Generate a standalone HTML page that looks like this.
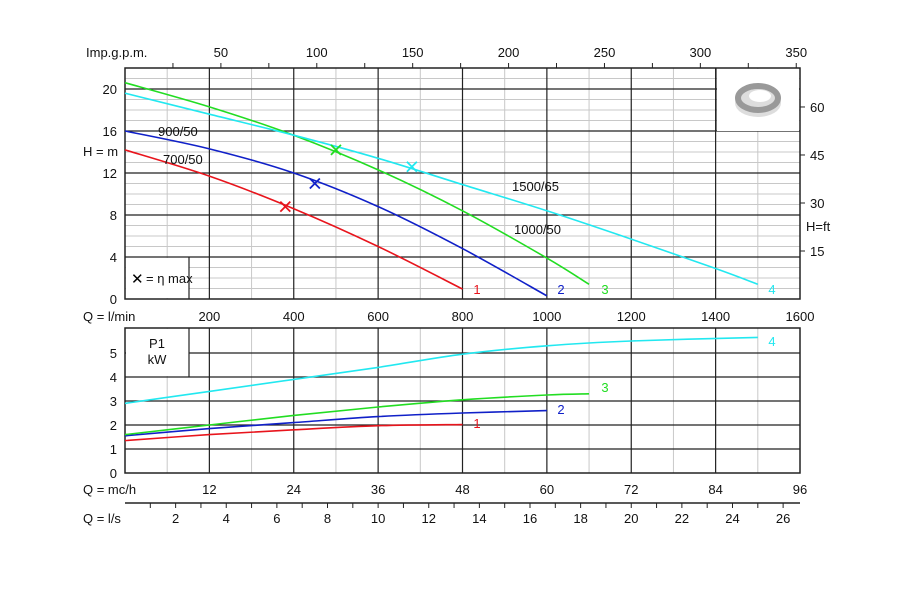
<!DOCTYPE html>
<html><head><meta charset="utf-8"><style>
body{margin:0;background:#fff}
svg{display:block;font-family:"Liberation Sans",sans-serif;font-size:13px}
</style></head><body>
<svg id="s" width="922" height="590" viewBox="0 0 922 590" xmlns="http://www.w3.org/2000/svg"></svg>
<script>
const s=document.getElementById('s');let h='';
const X=q=>125+q*0.421875, Y=m=>299-m*10.5, P=k=>473-k*24;
function L(x1,y1,x2,y2,c,w){h+=`<line x1="${x1}" y1="${y1}" x2="${x2}" y2="${y2}" stroke="${c}" stroke-width="${w}"/>`;}
function T(x,y,t,a,c){h+=`<text x="${x}" y="${y}" text-anchor="${a||'middle'}" fill="${c||'#111'}">${t}</text>`;}
for(let m=1;m<22;m++){ if(m%4) L(125,Y(m),800,Y(m),'#c8c8c8',1);}
for(let q=100;q<1600;q+=200) L(X(q),68,X(q),299,'#c8c8c8',1);
for(let m=4;m<22;m+=4) L(125,Y(m),800,Y(m),'#222',1.2);
for(let q=200;q<1600;q+=200) L(X(q),68,X(q),299,'#222',1.2);
h+=`<rect x="126" y="258" width="63" height="40" fill="#fff"/>`;L(189,257,189,299,'#222',1.2);
h+=`<rect x="717" y="69" width="82" height="62" fill="#fff"/>`;L(716,68,716,131,'#222',1.2);
h+=`<g transform="translate(758,100)"><ellipse cx="0" cy="3" rx="23" ry="14" fill="#ddd"/><ellipse cx="0" cy="-2" rx="20" ry="12" fill="none" stroke="#999" stroke-width="6"/><ellipse cx="2" cy="-4" rx="11" ry="6" fill="#fff"/></g>`;
h+=`<rect x="125" y="68" width="675" height="231" fill="none" stroke="#222" stroke-width="1.5"/>`;
[0,4,8,12,16,20].forEach(m=>T(117,Y(m)+5,m,'end'));
T(83,156,'H = m','start');
[15,30,45,60].forEach(f=>{let y=Y(f*0.3048);L(800,y,805,y,'#222',1);T(810,y+5,f,'start');});
T(806,231,'H=ft','start');
for(let g=25;g<=350;g+=25){let x=X(g*4.546);L(x,63,x,68,'#222',1);if(g%50==0)T(x,57,g);}
T(86,57,'Imp.g.p.m.','start');
for(let q=200;q<=1600;q+=200)T(X(q),321,q);
T(83,321,'Q = l/min','start');
h+=`<text x="131" y="284" font-size="15">✕</text>`;T(146,283,'= η max','start');
function C(pts,c,f){const p=pts.map(a=>[X(a[0]),f(a[1])]);let d=`M${p[0][0]},${p[0][1]}`;
for(let i=0;i<p.length-1;i++){const p0=p[i-1]||p[i],p1=p[i],p2=p[i+1],p3=p[i+2]||p2;
d+=` C${p1[0]+(p2[0]-p0[0])/6},${p1[1]+(p2[1]-p0[1])/6} ${p2[0]-(p3[0]-p1[0])/6},${p2[1]-(p3[1]-p1[1])/6} ${p2[0]},${p2[1]}`;}
h+=`<path fill="none" stroke="${c}" stroke-width="1.6" d="${d}"/>`;}
function M(q,m,c){let x=X(q),y=Y(m);L(x-5,y-5,x+5,y+5,c,1.8);L(x-5,y+5,x+5,y-5,c,1.8);}
const R='#e8141c',B='#1020c8',G='#22dd22',Cy='#22e8f0';
C([[0,14.2],[200,11.7],[400,8.6],[600,5.0],[800,0.95]],R,Y);
C([[0,16],[200,14.3],[400,12.0],[600,8.8],[800,4.8],[1000,0.3]],B,Y);
C([[0,20.6],[200,18.3],[400,15.6],[600,12.3],[800,8.4],[1000,3.9],[1100,1.4]],G,Y);
C([[0,19.6],[200,17.6],[400,15.6],[600,13.4],[800,10.9],[1000,8.4],[1200,5.7],[1400,2.9],[1500,1.4]],Cy,Y);
M(380,8.8,R);M(450,11.0,B);M(500,14.2,G);M(680,12.6,Cy);
T(477,294,'1','middle',R);T(561,294,'2','middle',B);T(605,294,'3','middle',G);T(772,294,'4','middle',Cy);
L(130,131,148,131,'#222',1);
T(158,136,'900/50','start');T(163,164,'700/50','start');T(512,191,'1500/65','start');T(514,234,'1000/50','start');
for(let q=100;q<1600;q+=200) L(X(q),328,X(q),473,'#c8c8c8',1);
for(let k=1;k<6;k++) L(125,P(k),800,P(k),'#222',1.2);
for(let q=200;q<1600;q+=200) L(X(q),328,X(q),473,'#222',1.2);
h+=`<rect x="126" y="329" width="63" height="47" fill="#fff"/>`;L(189,328,189,377,'#222',1.2);
h+=`<rect x="125" y="328" width="675" height="145" fill="none" stroke="#222" stroke-width="1.5"/>`;
T(157,348,'P1');T(157,364,'kW');
for(let k=0;k<6;k++)T(117,P(k)+5,k,'end');
C([[0,1.35],[200,1.6],[400,1.8],[600,1.97],[800,2.02]],R,P);
C([[0,1.55],[200,1.85],[400,2.1],[600,2.35],[800,2.5],[1000,2.6]],B,P);
C([[0,1.6],[200,2.0],[400,2.4],[600,2.75],[800,3.05],[1000,3.25],[1100,3.3]],G,P);
C([[0,2.9],[200,3.4],[400,3.9],[600,4.4],[800,4.95],[1000,5.3],[1200,5.5],[1500,5.65]],Cy,P);
T(477,428,'1','middle',R);T(561,414,'2','middle',B);T(605,392,'3','middle',G);T(772,346,'4','middle',Cy);
T(83,494,'Q = mc/h','start');for(let m=12;m<=96;m+=12)T(X(m*1000/60),494,m);
L(125,503,800,503,'#222',1.5);
for(let l=1;l<=26;l++){let x=X(l*60);L(x,503,x,508,'#222',1);if(l%2==0)T(x,523,l);}
T(83,523,'Q = l/s','start');
s.innerHTML=h;
</script>
</body></html>
